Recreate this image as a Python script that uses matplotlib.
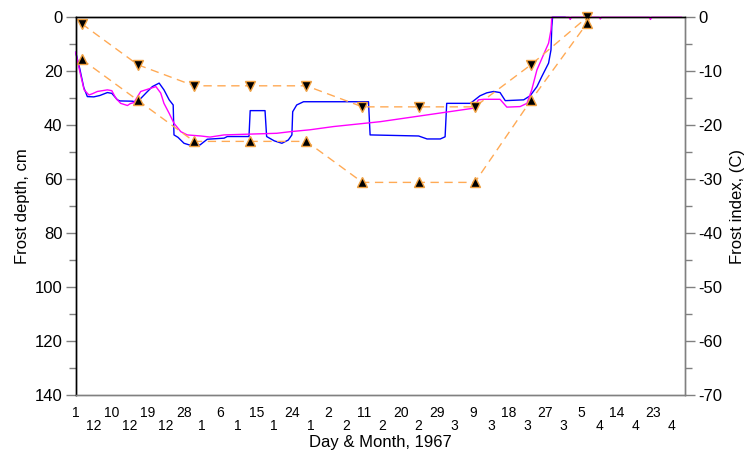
import matplotlib
matplotlib.use("Agg")
from matplotlib import pyplot as plt
from matplotlib.ticker import MultipleLocator, FixedLocator, FixedFormatter

plt.rcParams['font.family'] = ['Liberation Sans', 'DejaVu Sans']
plt.rcParams['axes.unicode_minus'] = False

# days counted from 1 Dec
tick_days = [0, 9, 18, 27, 36, 45, 54, 63, 72, 81, 90, 99, 108, 117, 126, 135, 144]
day_labels = ["1", "10", "19", "28", "6", "15", "24", "2", "11", "20", "29",
              "9", "18", "27", "5", "14", "23"]
month_labels = ["12", "12", "12", "1", "1", "1", "1", "2", "2", "2", "3",
                "3", "3", "3", "4", "4", "4"]

# measured frost depth (cm)
meas_day = [0, 1.0, 2.0, 2.9, 4.5, 6.0, 7.9, 9.0, 10.4, 11.0, 14.1, 15.3, 17.5,
            19.1, 20.8, 22.0, 23.3, 24.3, 24.5, 25.5, 27.0, 28.3, 31.0, 32.8,
            37.0, 37.8, 43.2, 43.5, 47.2, 47.6, 49.5, 51.4, 53.0, 53.9, 54.1,
            55.1, 56.8, 73.0, 73.4, 85.5, 87.6, 90.9, 92.1, 92.5, 98.4, 100.8,
            102.5, 104.2, 105.8, 107.1, 111.7, 113.3, 115.0, 116.2, 117.9,
            118.5, 118.7, 118.9, 122]
meas_depth = [13, 19, 26, 29.4, 29.5, 29, 27.9, 28.2, 30.6, 31, 31.1, 31.5, 28.1,
              25.7, 24.4, 26.9, 30.6, 32.5, 43.6, 44.5, 46.7, 47.3, 47.3, 45.2,
              44.8, 44.2, 44.2, 34.6, 34.6, 44.2, 45.8, 46.7, 45.5, 43.6, 35,
              32.5, 31.3, 31.3, 43.6, 44, 45.1, 45.1, 44.3, 31.9, 31.9, 29.1,
              28.0, 27.5, 27.9, 30.9, 30.6, 29.1, 25.7, 22, 17,
              12.1, 3.5, 0, 0]

# simulated frost depth (cm)
sim_day = [0, 1.0, 2.1, 3.3, 4.2, 5.4, 7.9, 9.0, 10.0, 11.2, 12.9, 13.6, 14.5,
           16.2, 18.7, 20.0, 21.2, 22.0, 23.3, 24.5, 26.2, 27.8, 31.2, 33.5,
           37.0, 43.5, 50.1, 53.5, 58.4, 64.3, 75.9, 99.2, 100.4, 101.7, 105.8,
           107.5, 110.8, 112.5, 113.7, 115.0, 116.6, 117.9, 118.5, 118.7,
           123.0, 123.3, 123.6, 130.5, 130.8, 131.1, 143.0, 143.3, 143.6, 151]
sim_depth = [13, 20, 26.9, 28.8, 28.3, 27.5, 26.9, 27.2, 30, 31.9, 32.7, 32, 31.6,
             27.5, 26.3, 25.7, 28.1, 31.9, 35.6, 39.3, 42.4, 43.6, 44, 44.4,
             43.6, 43.3, 43, 42.4, 41.7, 40.5, 38.7, 33.7, 30.6, 30.4, 30.4,
             33.3, 33.1, 31.9, 26.9, 19.5, 14, 9.6, 4.7, 0,
             0, 0.8, 0, 0, 0.6, 0, 0, 0.8, 0, 0]

# frost index (C), two-weekly
fi_day = [1.5, 15.5, 29.5, 43.5, 57.5, 71.5, 85.5, 99.5, 113.5, 127.5]
fi_upper = [-1.2, -8.8, -12.7, -12.7, -12.7, -16.6, -16.6, -16.6, -8.8, 0]
fi_lower = [-7.8, -15.4, -23.0, -23.0, -23.0, -30.6, -30.6, -30.6, -15.4, -1.1]

fig = plt.figure(figsize=(7.49, 4.61), dpi=100)
ax = fig.add_axes([0.1011, 0.1432, 0.8139, 0.8193])
ax2 = ax.twinx()

ax.plot(meas_day, meas_depth, color='#0000FF', lw=1.0, clip_on=False, zorder=3)
ax.plot(sim_day, sim_depth, color='#FF00FF', lw=1.0, clip_on=False, zorder=4)

orange = '#FFAA55'
for vals, mk in [(fi_upper, 'v'), (fi_lower, '^')]:
    ax2.plot(fi_day, vals, color=orange, lw=1.0, dashes=(6, 4), marker=mk,
             markersize=7.5, markerfacecolor='black', markeredgecolor='#F0A040',
             markeredgewidth=1.0, clip_on=False)

ax.set_xlim(0, 152)
ax.set_ylim(140, 0)
ax2.set_ylim(-70, 0)

ax.yaxis.set_major_locator(MultipleLocator(20))
ax.yaxis.set_minor_locator(MultipleLocator(10))
ax2.yaxis.set_major_locator(MultipleLocator(10))
ax2.yaxis.set_minor_locator(MultipleLocator(5))

# day numbers under the ticks, month numbers shifted half a step to the right
ax.xaxis.set_major_locator(FixedLocator(tick_days))
ax.xaxis.set_major_formatter(FixedFormatter(day_labels))
ax.xaxis.set_minor_locator(FixedLocator([d + 4.5 for d in tick_days]))
ax.xaxis.set_minor_formatter(FixedFormatter(month_labels))
ax.tick_params(axis='x', which='major', length=0, pad=8.0, labelsize=10)
ax.tick_params(axis='x', which='minor', length=0, pad=17.3, labelsize=10)

grey = '#808080'
for a in (ax, ax2):
    a.tick_params(axis='y', which='major', length=7.2, width=1, color=grey,
                  labelsize=12, pad=2.4)
    a.tick_params(axis='y', which='minor', length=4.8, width=1, color=grey)
    a.spines['left'].set_color('black')
    a.spines['top'].set_color('black')
    a.spines['bottom'].set_color(grey)
    a.spines['right'].set_color(grey)
    for sp in a.spines.values():
        sp.set_linewidth(1.0)

ax.set_ylabel("Frost depth, cm", fontsize=12, labelpad=3)
ax2.set_ylabel("Frost index, (C)", fontsize=12, labelpad=5)
ax.set_xlabel("Day & Month, 1967", fontsize=12)
ax.xaxis.set_label_coords(0.5, -0.107)

fig.savefig("out.png", dpi=100)
